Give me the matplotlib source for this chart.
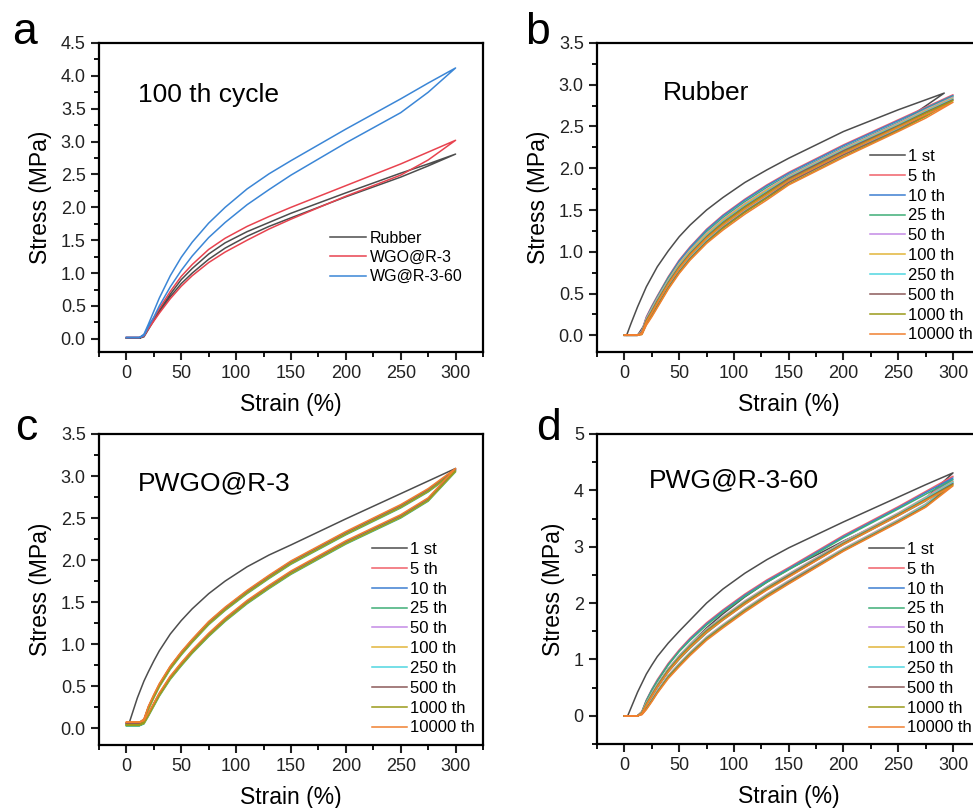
import numpy as np
import matplotlib
matplotlib.use('Agg')
import matplotlib.pyplot as plt
from matplotlib.ticker import MultipleLocator

plt.rcParams['font.family'] = ['Liberation Sans', 'DejaVu Sans']

# shared strain grid (%) for loading branch, unloading goes back along it
strain = [0, 12, 16, 20, 25, 30, 40, 50, 60, 75, 90, 110, 130, 150, 200, 250, 275, 300]

cycles = ['1 st', '5 th', '10 th', '25 th', '50 th', '100 th', '250 th', '500 th', '1000 th', '10000 th']
cycle_colors = ['#4d4d4d', '#f0606a', '#3d7fd1', '#3fae76', '#c48ae6', '#e1b53a',
                '#4fd6e0', '#8c5a5a', '#9a9a1a', '#f08030']

# ---- panel a : 100 th cycle of three samples
a_names = ['Rubber', 'WGO@R-3', 'WG@R-3-60']
a_colors = ['#4d4d4d', '#e8434f', '#3b86d6']
a_load = [
    [0.01, 0.01, 0.05, 0.17, 0.30, 0.43, 0.68, 0.90, 1.07, 1.29, 1.46, 1.63, 1.77, 1.91, 2.22, 2.52, 2.66, 2.81],
    [0.02, 0.02, 0.06, 0.18, 0.32, 0.46, 0.72, 0.95, 1.13, 1.36, 1.53, 1.71, 1.86, 2.00, 2.33, 2.66, 2.84, 3.02],
    [0.02, 0.02, 0.07, 0.22, 0.42, 0.62, 0.96, 1.24, 1.47, 1.76, 2.00, 2.28, 2.51, 2.71, 3.19, 3.65, 3.89, 4.12],
]
a_unload = [
    [0.01, 0.01, 0.03, 0.14, 0.28, 0.41, 0.64, 0.84, 1.00, 1.21, 1.38, 1.56, 1.71, 1.84, 2.16, 2.46, 2.63, 2.81],
    [0.02, 0.02, 0.04, 0.15, 0.27, 0.39, 0.61, 0.80, 0.96, 1.16, 1.32, 1.50, 1.67, 1.82, 2.17, 2.49, 2.72, 3.02],
    [0.02, 0.02, 0.05, 0.18, 0.33, 0.50, 0.79, 1.04, 1.26, 1.54, 1.77, 2.04, 2.27, 2.49, 2.98, 3.44, 3.75, 4.12],
]

# ---- panel b : Rubber
b_first_strain = [2, 6, 12, 20, 25, 30, 40, 50, 60, 75, 90, 110, 130, 150, 200, 250, 292]
b_first_load = [0, 0.14, 0.34, 0.58, 0.70, 0.82, 1.01, 1.18, 1.32, 1.50, 1.65, 1.83, 1.98, 2.12, 2.44, 2.70, 2.90]
b_first_unload = [0, 0, 0, 0.16, 0.27, 0.41, 0.64, 0.84, 1.00, 1.21, 1.38, 1.57, 1.73, 1.87, 2.20, 2.52, 2.90]
b_load = [
    [0, 0, 0.06, 0.22, 0.35, 0.47, 0.70, 0.90, 1.06, 1.27, 1.44, 1.63, 1.80, 1.95, 2.28, 2.58, 2.73, 2.88],
    [0, 0, 0.05, 0.21, 0.34, 0.46, 0.69, 0.89, 1.05, 1.26, 1.43, 1.62, 1.79, 1.94, 2.27, 2.57, 2.72, 2.87],
    [0, 0, 0.05, 0.20, 0.33, 0.45, 0.68, 0.87, 1.03, 1.24, 1.41, 1.60, 1.77, 1.92, 2.25, 2.55, 2.71, 2.86],
    [0, 0, 0.05, 0.20, 0.32, 0.44, 0.66, 0.86, 1.02, 1.22, 1.39, 1.58, 1.75, 1.91, 2.24, 2.54, 2.70, 2.85],
    [0, 0, 0.04, 0.19, 0.31, 0.43, 0.65, 0.85, 1.01, 1.21, 1.38, 1.57, 1.74, 1.90, 2.23, 2.53, 2.69, 2.84],
    [0, 0, 0.04, 0.18, 0.30, 0.42, 0.64, 0.83, 0.99, 1.19, 1.36, 1.55, 1.72, 1.89, 2.22, 2.52, 2.68, 2.83],
    [0, 0, 0.04, 0.18, 0.29, 0.41, 0.63, 0.82, 0.98, 1.18, 1.35, 1.54, 1.71, 1.88, 2.21, 2.51, 2.67, 2.82],
    [0, 0, 0.03, 0.17, 0.28, 0.40, 0.62, 0.81, 0.97, 1.17, 1.34, 1.53, 1.70, 1.86, 2.19, 2.50, 2.66, 2.81],
    [0, 0, 0.03, 0.16, 0.27, 0.39, 0.61, 0.80, 0.96, 1.16, 1.32, 1.51, 1.68, 1.85, 2.18, 2.49, 2.64, 2.79],
]
b_unload = [
    [0, 0, 0.04, 0.18, 0.30, 0.41, 0.64, 0.84, 1.00, 1.21, 1.38, 1.57, 1.74, 1.90, 2.23, 2.53, 2.69, 2.88],
    [0, 0, 0.03, 0.17, 0.29, 0.40, 0.63, 0.83, 0.99, 1.20, 1.37, 1.56, 1.73, 1.89, 2.22, 2.52, 2.68, 2.87],
    [0, 0, 0.03, 0.16, 0.28, 0.39, 0.62, 0.81, 0.97, 1.18, 1.35, 1.54, 1.71, 1.87, 2.20, 2.50, 2.67, 2.86],
    [0, 0, 0.03, 0.16, 0.27, 0.38, 0.60, 0.80, 0.96, 1.16, 1.33, 1.52, 1.69, 1.86, 2.19, 2.49, 2.66, 2.85],
    [0, 0, 0.02, 0.15, 0.26, 0.37, 0.59, 0.79, 0.95, 1.15, 1.32, 1.51, 1.68, 1.85, 2.18, 2.48, 2.65, 2.84],
    [0, 0, 0.02, 0.14, 0.25, 0.36, 0.58, 0.77, 0.93, 1.13, 1.30, 1.49, 1.66, 1.84, 2.17, 2.47, 2.64, 2.83],
    [0, 0, 0.02, 0.14, 0.24, 0.35, 0.57, 0.76, 0.92, 1.12, 1.29, 1.48, 1.65, 1.83, 2.16, 2.46, 2.63, 2.82],
    [0, 0, 0.01, 0.13, 0.23, 0.34, 0.56, 0.75, 0.91, 1.11, 1.28, 1.47, 1.64, 1.81, 2.14, 2.45, 2.62, 2.81],
    [0, 0, 0.01, 0.12, 0.22, 0.33, 0.55, 0.74, 0.90, 1.10, 1.26, 1.45, 1.62, 1.80, 2.13, 2.44, 2.60, 2.79],
]

# ---- panel c : PWGO@R-3
c_first_strain = [3, 10, 16, 20, 25, 30, 40, 50, 60, 75, 90, 110, 130, 150, 200, 250, 275, 300]
c_first_load = [0.08, 0.36, 0.56, 0.67, 0.80, 0.92, 1.12, 1.28, 1.42, 1.60, 1.75, 1.92, 2.06, 2.18, 2.49, 2.79, 2.94, 3.09]
c_first_unload = [0.06, 0.06, 0.10, 0.24, 0.38, 0.51, 0.73, 0.90, 1.05, 1.26, 1.43, 1.63, 1.81, 1.98, 2.33, 2.65, 2.82, 3.09]
c_load = [
    [0.06, 0.06, 0.10, 0.25, 0.39, 0.52, 0.73, 0.90, 1.05, 1.26, 1.43, 1.63, 1.81, 1.98, 2.33, 2.65, 2.84, 3.08],
    [0.05, 0.05, 0.09, 0.24, 0.38, 0.51, 0.72, 0.89, 1.04, 1.25, 1.42, 1.62, 1.80, 1.97, 2.32, 2.64, 2.83, 3.07],
    [0.03, 0.03, 0.07, 0.22, 0.36, 0.49, 0.70, 0.87, 1.02, 1.23, 1.40, 1.60, 1.78, 1.95, 2.30, 2.62, 2.81, 3.05],
    [0.05, 0.05, 0.09, 0.24, 0.38, 0.51, 0.72, 0.89, 1.04, 1.25, 1.42, 1.62, 1.80, 1.97, 2.32, 2.64, 2.83, 3.07],
    [0.04, 0.04, 0.08, 0.23, 0.37, 0.50, 0.71, 0.88, 1.03, 1.24, 1.41, 1.61, 1.79, 1.96, 2.31, 2.63, 2.82, 3.06],
    [0.05, 0.05, 0.09, 0.24, 0.38, 0.51, 0.72, 0.89, 1.04, 1.25, 1.42, 1.62, 1.80, 1.97, 2.32, 2.64, 2.83, 3.07],
    [0.06, 0.06, 0.10, 0.25, 0.39, 0.52, 0.73, 0.90, 1.05, 1.26, 1.43, 1.63, 1.81, 1.98, 2.33, 2.65, 2.84, 3.08],
    [0.04, 0.04, 0.08, 0.23, 0.37, 0.50, 0.71, 0.88, 1.03, 1.24, 1.41, 1.61, 1.79, 1.96, 2.31, 2.63, 2.82, 3.06],
    [0.07, 0.07, 0.11, 0.26, 0.40, 0.53, 0.74, 0.91, 1.06, 1.27, 1.44, 1.64, 1.82, 1.99, 2.34, 2.66, 2.85, 3.09],
]
c_unload = [
    [0.06, 0.06, 0.08, 0.17, 0.29, 0.41, 0.61, 0.77, 0.92, 1.12, 1.30, 1.51, 1.69, 1.86, 2.22, 2.53, 2.73, 3.08],
    [0.05, 0.05, 0.07, 0.16, 0.28, 0.40, 0.60, 0.76, 0.91, 1.11, 1.29, 1.50, 1.68, 1.85, 2.21, 2.52, 2.72, 3.07],
    [0.03, 0.03, 0.05, 0.14, 0.26, 0.38, 0.58, 0.74, 0.89, 1.09, 1.27, 1.48, 1.66, 1.83, 2.19, 2.50, 2.70, 3.05],
    [0.05, 0.05, 0.07, 0.16, 0.28, 0.40, 0.60, 0.76, 0.91, 1.11, 1.29, 1.50, 1.68, 1.85, 2.21, 2.52, 2.72, 3.07],
    [0.04, 0.04, 0.06, 0.15, 0.27, 0.39, 0.59, 0.75, 0.90, 1.10, 1.28, 1.49, 1.67, 1.84, 2.20, 2.51, 2.71, 3.06],
    [0.05, 0.05, 0.07, 0.16, 0.28, 0.40, 0.60, 0.76, 0.91, 1.11, 1.29, 1.50, 1.68, 1.85, 2.21, 2.52, 2.72, 3.07],
    [0.06, 0.06, 0.08, 0.17, 0.29, 0.41, 0.61, 0.77, 0.92, 1.12, 1.30, 1.51, 1.69, 1.86, 2.22, 2.53, 2.73, 3.08],
    [0.04, 0.04, 0.06, 0.15, 0.27, 0.39, 0.59, 0.75, 0.90, 1.10, 1.28, 1.49, 1.67, 1.84, 2.20, 2.51, 2.71, 3.06],
    [0.07, 0.07, 0.09, 0.18, 0.30, 0.42, 0.62, 0.78, 0.93, 1.13, 1.31, 1.52, 1.70, 1.87, 2.23, 2.54, 2.74, 3.09],
]

# ---- panel d : PWG@R-3-60
d_first_strain = [3, 12, 16, 20, 25, 30, 40, 50, 60, 75, 90, 110, 130, 150, 200, 250, 275, 300]
d_first_load = [0, 0.42, 0.58, 0.74, 0.90, 1.05, 1.29, 1.50, 1.70, 2.00, 2.25, 2.53, 2.77, 2.98, 3.44, 3.88, 4.10, 4.31]
d_first_unload = [0, 0, 0.04, 0.16, 0.34, 0.53, 0.82, 1.06, 1.27, 1.56, 1.81, 2.11, 2.37, 2.60, 3.10, 3.56, 3.86, 4.31]
d_load = [
    [0, 0, 0.08, 0.28, 0.47, 0.64, 0.93, 1.17, 1.38, 1.65, 1.88, 2.16, 2.41, 2.63, 3.20, 3.71, 3.98, 4.25],
    [0, 0, 0.07, 0.27, 0.46, 0.62, 0.91, 1.15, 1.36, 1.63, 1.86, 2.14, 2.39, 2.61, 3.18, 3.69, 3.96, 4.22],
    [0, 0, 0.07, 0.26, 0.45, 0.61, 0.90, 1.14, 1.34, 1.61, 1.84, 2.12, 2.37, 2.59, 3.16, 3.67, 3.93, 4.19],
    [0, 0, 0.06, 0.23, 0.40, 0.56, 0.84, 1.07, 1.27, 1.54, 1.76, 2.04, 2.29, 2.52, 3.09, 3.60, 3.88, 4.16],
    [0, 0, 0.06, 0.23, 0.39, 0.55, 0.83, 1.06, 1.26, 1.53, 1.75, 2.03, 2.28, 2.51, 3.08, 3.59, 3.87, 4.15],
    [0, 0, 0.05, 0.22, 0.38, 0.54, 0.82, 1.05, 1.25, 1.52, 1.74, 2.02, 2.27, 2.50, 3.07, 3.58, 3.86, 4.14],
    [0, 0, 0.05, 0.21, 0.37, 0.53, 0.81, 1.04, 1.24, 1.51, 1.73, 2.01, 2.26, 2.49, 3.06, 3.57, 3.84, 4.12],
    [0, 0, 0.05, 0.20, 0.36, 0.52, 0.80, 1.03, 1.23, 1.50, 1.72, 2.00, 2.25, 2.47, 3.05, 3.56, 3.83, 4.10],
    [0, 0, 0.04, 0.19, 0.35, 0.51, 0.78, 1.01, 1.21, 1.48, 1.70, 1.98, 2.23, 2.46, 3.04, 3.55, 3.82, 4.08],
]
d_unload = [
    [0, 0, 0.06, 0.20, 0.37, 0.53, 0.81, 1.03, 1.24, 1.51, 1.74, 2.02, 2.28, 2.51, 3.08, 3.59, 3.86, 4.25],
    [0, 0, 0.05, 0.19, 0.36, 0.51, 0.79, 1.01, 1.22, 1.49, 1.72, 2.00, 2.26, 2.49, 3.06, 3.57, 3.84, 4.22],
    [0, 0, 0.05, 0.18, 0.35, 0.50, 0.78, 1.00, 1.20, 1.47, 1.70, 1.98, 2.24, 2.47, 3.04, 3.55, 3.81, 4.19],
    [0, 0, 0.04, 0.15, 0.30, 0.45, 0.72, 0.93, 1.13, 1.40, 1.62, 1.90, 2.16, 2.40, 2.97, 3.48, 3.76, 4.16],
    [0, 0, 0.04, 0.15, 0.29, 0.44, 0.71, 0.92, 1.12, 1.39, 1.61, 1.89, 2.15, 2.39, 2.96, 3.47, 3.75, 4.15],
    [0, 0, 0.03, 0.14, 0.28, 0.43, 0.70, 0.91, 1.11, 1.38, 1.60, 1.88, 2.14, 2.38, 2.95, 3.46, 3.74, 4.14],
    [0, 0, 0.03, 0.13, 0.27, 0.42, 0.69, 0.90, 1.10, 1.37, 1.59, 1.87, 2.13, 2.37, 2.94, 3.45, 3.72, 4.12],
    [0, 0, 0.03, 0.12, 0.26, 0.41, 0.68, 0.89, 1.09, 1.36, 1.58, 1.86, 2.12, 2.35, 2.93, 3.44, 3.71, 4.10],
    [0, 0, 0.02, 0.11, 0.25, 0.40, 0.66, 0.87, 1.07, 1.34, 1.56, 1.84, 2.10, 2.34, 2.92, 3.43, 3.70, 4.08],
]


def loop(ax, x, load, unload, color, label):
    # loading branch out to the peak, unloading branch back
    xs = list(x) + list(x[::-1])
    ys = list(load) + list(unload[::-1])
    ax.plot(xs, ys, color=color, lw=1.1, label=label)


def style(ax, ylim, ymajor, fmt):
    ax.set_xlim(-25, 325)
    ax.set_ylim(*ylim)
    ax.xaxis.set_major_locator(MultipleLocator(50))
    ax.xaxis.set_minor_locator(MultipleLocator(25))
    ax.yaxis.set_major_locator(MultipleLocator(ymajor))
    ax.yaxis.set_minor_locator(MultipleLocator(ymajor / 2))
    ax.yaxis.set_major_formatter(plt.FormatStrFormatter(fmt))
    ax.tick_params(which='major', direction='out', length=6, width=1.5, labelsize=13, colors='#222222')
    ax.tick_params(which='minor', direction='out', length=3.5, width=1.3)
    ax.tick_params(top=False, right=False)
    for s in ax.spines.values():
        s.set_linewidth(1.6)
    ax.set_xlabel('Strain (%)', fontsize=16.5, labelpad=8)
    ax.set_ylabel('Stress (MPa)', fontsize=16.5, labelpad=6)


fig = plt.figure(figsize=(9.73, 8.08), dpi=100)
ax_a = fig.add_axes([0.1017, 0.5644, 0.3947, 0.3824])
ax_b = fig.add_axes([0.6136, 0.5644, 0.3940, 0.3824])
ax_c = fig.add_axes([0.1017, 0.0780, 0.3947, 0.3849])
ax_d = fig.add_axes([0.6136, 0.0792, 0.3940, 0.3837])

for i in range(3):
    loop(ax_a, strain, a_load[i], a_unload[i], a_colors[i], a_names[i])
style(ax_a, (-0.2, 4.5), 0.5, '%.1f')
ax_a.text(0.102, 0.809, '100 th cycle', transform=ax_a.transAxes, fontsize=19)
ax_a.legend(loc='upper left', bbox_to_anchor=(0.602, 0.392), frameon=False, fontsize=11.5,
            handlelength=2.25, handletextpad=0.25, labelspacing=0.26, borderpad=0, borderaxespad=0)

panels = [
    (ax_b, b_first_strain, b_first_load, b_first_unload, b_load, b_unload, (-0.2, 3.5), 0.5, '%.1f',
     'Rubber', (0.172, 0.816), (0.712, 0.657)),
    (ax_c, c_first_strain, c_first_load, c_first_unload, c_load, c_unload, (-0.2, 3.5), 0.5, '%.1f',
     'PWGO@R-3', (0.102, 0.82), (0.711, 0.653)),
    (ax_d, d_first_strain, d_first_load, d_first_unload, d_load, d_unload, (-0.5, 5), 1, '%d',
     'PWG@R-3-60', (0.136, 0.829), (0.709, 0.652)),
]
for ax, fs, fl, fu, loads, unloads, ylim, ymaj, fmt, title, tpos, lpos in panels:
    loop(ax, fs, fl, fu, cycle_colors[0], cycles[0])
    for i in range(9):
        loop(ax, strain, loads[i], unloads[i], cycle_colors[i + 1], cycles[i + 1])
    style(ax, ylim, ymaj, fmt)
    ax.text(tpos[0], tpos[1], title, transform=ax.transAxes, fontsize=19)
    ax.legend(loc='upper left', bbox_to_anchor=lpos, frameon=False, fontsize=12,
              handlelength=2.1, handletextpad=0.2, labelspacing=0.29, borderpad=0, borderaxespad=0)

fig.text(0.012, 0.945, 'a', fontsize=32)
fig.text(0.540, 0.945, 'b', fontsize=32)
fig.text(0.016, 0.456, 'c', fontsize=32)
fig.text(0.551, 0.455, 'd', fontsize=32)

fig.savefig('out.png', dpi=100)
